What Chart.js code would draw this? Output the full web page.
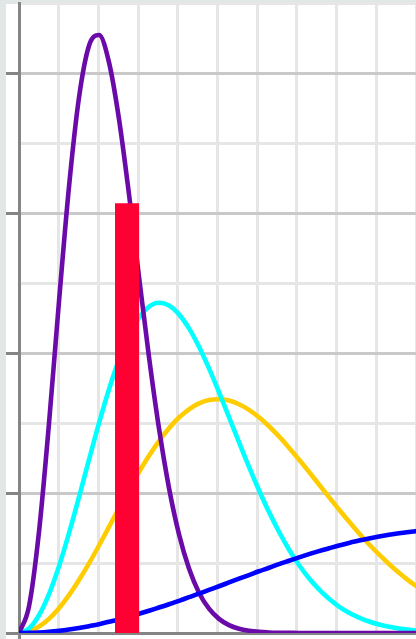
<!DOCTYPE html>
<html>
<head>
<meta charset="utf-8">
<script src="https://cdn.jsdelivr.net/npm/chart.js@4/dist/chart.umd.min.js"></script>
<style>
  html, body { margin: 0; padding: 0; background: #e1e7e7; }
  #wrap { width: 416px; height: 639px; position: relative; }
</style>
</head>
<body>
<div id="wrap"><canvas id="c"></canvas></div>
<script>
// Speed grid (m/s)
const speeds = [0, 25, 50, 75, 100, 125, 150, 175, 200, 225, 250, 275, 300, 325, 350, 375, 400,
  425, 450, 475, 500, 525, 550, 575, 600, 625, 650, 675, 700, 725, 750, 775, 800, 825, 850,
  875, 900, 925, 950, 975, 1000];

// Probability density, in 10^-3 s/m
const xenon = [0, 0.190, 0.723, 1.497, 2.369, 3.188, 3.825, 4.195, 4.271, 4.076, 3.671, 3.134,
  2.545, 1.972, 1.461, 1.036, 0.705, 0.460, 0.288, 0.174, 0.101, 0.056, 0.030, 0.016, 0.008,
  0.004, 0.002, 0.001, 0, 0, 0, 0, 0, 0, 0, 0, 0, 0, 0, 0, 0];
const argon = [0, 0.032, 0.127, 0.278, 0.477, 0.713, 0.971, 1.238, 1.499, 1.741, 1.953, 2.126,
  2.253, 2.331, 2.359, 2.339, 2.276, 2.176, 2.045, 1.890, 1.720, 1.542, 1.363, 1.187, 1.020,
  0.864, 0.723, 0.596, 0.486, 0.391, 0.311, 0.244, 0.189, 0.145, 0.110, 0.082, 0.061, 0.044,
  0.032, 0.023, 0.016];
const neon = [0, 0.012, 0.046, 0.101, 0.177, 0.270, 0.378, 0.497, 0.625, 0.758, 0.892, 1.024,
  1.149, 1.266, 1.371, 1.463, 1.539, 1.598, 1.640, 1.664, 1.670, 1.660, 1.634, 1.594, 1.541,
  1.477, 1.404, 1.324, 1.239, 1.151, 1.061, 0.971, 0.882, 0.796, 0.713, 0.634, 0.561, 0.493,
  0.430, 0.372, 0.321];
const helium = [0, 0.001, 0.004, 0.009, 0.016, 0.025, 0.036, 0.049, 0.063, 0.080, 0.097, 0.116,
  0.137, 0.159, 0.182, 0.205, 0.230, 0.256, 0.281, 0.308, 0.334, 0.361, 0.388, 0.414, 0.441,
  0.466, 0.492, 0.516, 0.540, 0.563, 0.585, 0.605, 0.625, 0.643, 0.660, 0.675, 0.689, 0.702,
  0.713, 0.722, 0.730];

// Highlighted speed band (m/s) and its height (10^-3 s/m)
const bandEdges = [240, 300];
const bandHeight = 3.07;

const AXIS = '#858585';
const MAJOR = '#c9c9c9';
const MINOR = '#e6e6e6';

const toPoints = (ys) => speeds.map((v, i) => ({ x: v, y: ys[i] }));

const curve = (ys, color) => ({
  data: toPoints(ys),
  borderColor: color,
  borderWidth: 4.6,
  pointRadius: 0,
  fill: false,
  cubicInterpolationMode: 'monotone'
});

const paper = {
  id: 'paper',
  beforeDraw(chart) {
    const { ctx, chartArea, width, height } = chart;
    ctx.save();
    ctx.fillStyle = '#e1e7e7';
    ctx.fillRect(0, 0, width, height);
    ctx.fillStyle = '#ffffff';
    ctx.fillRect(chartArea.left - 13, chartArea.top + 1, width, height);
    ctx.restore();
  }
};

new Chart(document.getElementById('c'), {
  type: 'line',
  data: {
    datasets: [
      {
        data: bandEdges.map(x => ({ x, y: bandHeight })),
        borderWidth: 0,
        borderColor: 'rgba(0,0,0,0)',
        backgroundColor: '#ff0033',
        pointRadius: 0,
        fill: 'origin',
        tension: 0
      },
      curve(helium, '#0000ff'),
      curve(xenon, '#6a0aa8'),
      curve(argon, '#00ffff'),
      curve(neon, '#ffcc00')
    ]
  },
  options: {
    responsive: true,
    maintainAspectRatio: false,
    devicePixelRatio: 1,
    animation: false,
    events: [],
    layout: { padding: { left: 6, top: 3, right: 0, bottom: 0 } },
    plugins: { legend: { display: false }, tooltip: { enabled: false } },
    scales: {
      x: {
        type: 'linear',
        min: 0,
        max: 992.5,
        ticks: { display: false, stepSize: 100, includeBounds: false },
        grid: {
          lineWidth: 3,
          tickLength: 6,
          color: (c) => (c.tick && c.tick.value % 500 === 0 ? MAJOR : MINOR),
          tickColor: (c) => (c.tick && c.tick.value % 500 === 0 ? AXIS : 'rgba(0,0,0,0)')
        },
        border: { color: AXIS, width: 3 }
      },
      y: {
        type: 'linear',
        min: 0,
        max: 4.5,
        ticks: { display: false, stepSize: 0.5 },
        grid: {
          lineWidth: 3,
          tickLength: 13,
          color: (c) => (c.tick && Math.abs(c.tick.value % 1) < 1e-9 ? MAJOR : MINOR),
          tickColor: (c) => (c.tick && Math.abs(c.tick.value % 1) < 1e-9 ? AXIS : 'rgba(0,0,0,0)')
        },
        border: { color: AXIS, width: 3 }
      }
    }
  },
  plugins: [paper]
});
</script>
</body>
</html>
